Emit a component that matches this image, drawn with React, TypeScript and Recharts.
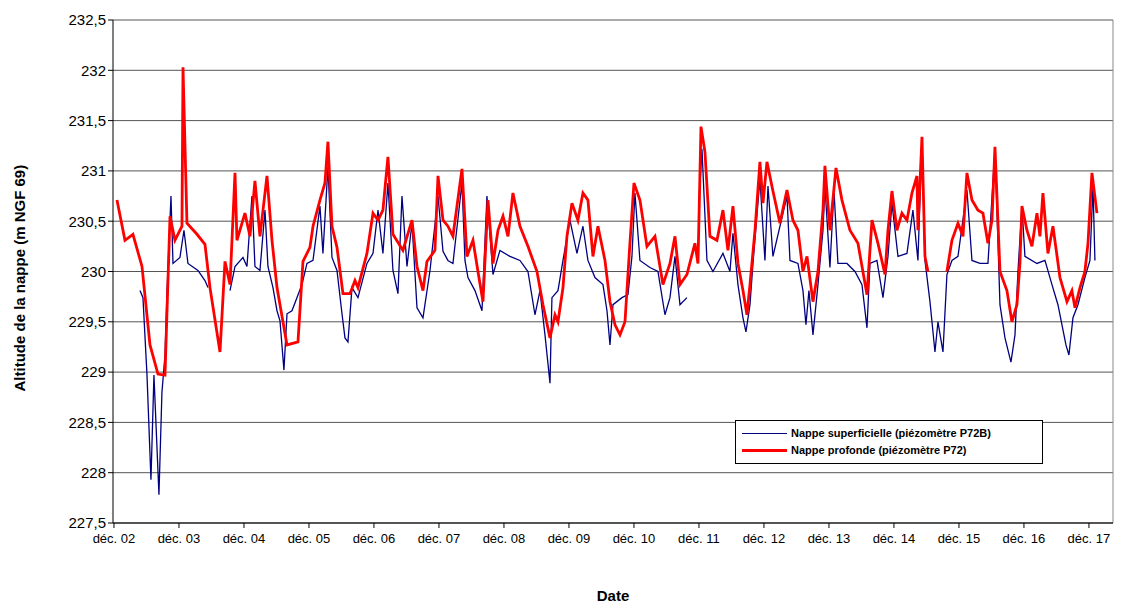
import React from "react";
import {
  LineChart,
  Line,
  XAxis,
  YAxis,
  CartesianGrid,
  ReferenceLine,
} from "recharts";

// t = années depuis déc. 02
const yearTicks = [0, 1, 2, 3, 4, 5, 6, 7, 8, 9, 10, 11, 12, 13, 14, 15];
const yearLabels = ["02", "03", "04", "05", "06", "07", "08", "09", "10", "11", "12", "13", "14", "15", "16", "17"];
const altitudeTicks = [227.5, 228, 228.5, 229, 229.5, 230, 230.5, 231, 231.5, 232, 232.5];

const nappeSuperficielle: [number, number | null][] = [
  [0.4, 229.81], [0.446, 229.74], [0.508, 228.97], [0.569, 227.93], [0.615, 228.97], [0.692, 227.78],
  [0.738, 228.8], [0.785, 229.17], [0.815, 229.78], [0.877, 230.75], [0.908, 230.08], [1.015, 230.14],
  [1.077, 230.41], [1.138, 230.08], [1.292, 230.01], [1.4, 229.91], [1.446, 229.84], [1.6, null],
  [1.785, 229.81], [1.862, 230.05], [1.985, 230.14], [2.046, 230.05], [2.123, 230.75], [2.169, 230.05],
  [2.246, 230.01], [2.323, 230.61], [2.369, 230.05], [2.446, 229.84], [2.508, 229.61], [2.554, 229.51],
  [2.615, 229.02], [2.662, 229.58], [2.738, 229.61], [2.815, 229.74], [2.892, 229.87], [2.969, 230.08],
  [3.062, 230.11], [3.169, 230.65], [3.215, 230.18], [3.292, 231.04], [3.354, 230.14], [3.431, 230.01],
  [3.508, 229.58], [3.554, 229.34], [3.6, 229.3], [3.662, 229.84], [3.754, 229.74], [3.892, 230.08],
  [3.985, 230.18], [4.062, 230.61], [4.138, 230.18], [4.215, 230.88], [4.292, 230.01], [4.369, 229.78],
  [4.431, 230.75], [4.508, 230.05], [4.585, 230.48], [4.662, 229.64], [4.754, 229.54], [4.862, 230.01],
  [4.985, 230.75], [5.062, 230.2], [5.138, 230.11], [5.215, 230.08], [5.354, 230.88], [5.4, 230.11],
  [5.446, 229.94], [5.554, 229.81], [5.662, 229.61], [5.738, 230.75], [5.831, 229.97], [5.938, 230.21],
  [6.092, 230.15], [6.246, 230.11], [6.369, 230.0], [6.477, 229.57], [6.554, 229.81], [6.631, 229.37],
  [6.708, 228.89], [6.738, 229.74], [6.831, 229.81], [6.908, 230.11], [7.015, 230.51], [7.123, 230.18],
  [7.215, 230.45], [7.292, 230.11], [7.4, 229.94], [7.523, 229.87], [7.585, 229.61], [7.631, 229.27],
  [7.677, 229.67], [7.815, 229.74], [7.908, 229.77], [7.969, 230.15], [8.015, 230.78], [8.092, 230.11],
  [8.246, 230.04], [8.369, 230.0], [8.477, 229.57], [8.554, 229.74], [8.631, 230.15], [8.708, 229.67],
  [8.815, 229.74], [8.9, null], [9.0, 230.68], [9.046, 231.22], [9.123, 230.11], [9.215, 230.0],
  [9.369, 230.18], [9.477, 230.0], [9.523, 230.38], [9.6, 229.87], [9.677, 229.54], [9.723, 229.4],
  [9.785, 229.67], [9.831, 230.08], [9.938, 230.92], [10.015, 230.11], [10.062, 230.85], [10.138, 230.15],
  [10.354, 230.75], [10.4, 230.11], [10.523, 230.08], [10.6, 229.81], [10.646, 229.47], [10.692, 229.81],
  [10.754, 229.37], [10.831, 229.87], [10.908, 230.41], [10.938, 230.85], [11.015, 230.04], [11.077, 230.81],
  [11.138, 230.08], [11.277, 230.08], [11.4, 230.0], [11.508, 229.87], [11.585, 229.44], [11.631, 230.08],
  [11.738, 230.11], [11.831, 229.74], [11.908, 230.15], [11.969, 230.68], [12.062, 230.15], [12.2, 230.18],
  [12.292, 230.61], [12.369, 230.11], [12.431, 231.32], [12.477, 230.11], [12.554, 229.7], [12.631, 229.2],
  [12.677, 229.5], [12.754, 229.2], [12.815, 229.97], [12.892, 230.11], [12.985, 230.15], [13.123, 230.81],
  [13.2, 230.11], [13.323, 230.08], [13.446, 230.08], [13.554, 231.22], [13.631, 229.67], [13.708, 229.34],
  [13.8, 229.1], [13.862, 229.37], [13.908, 230.0], [13.969, 230.65], [14.015, 230.15], [14.2, 230.08],
  [14.323, 230.11], [14.431, 229.87], [14.523, 229.67], [14.646, 229.27], [14.692, 229.17], [14.754, 229.54],
  [14.831, 229.67], [14.938, 229.94], [15.015, 230.11], [15.062, 230.85], [15.092, 230.11],
];

const nappeProfonde: [number, number | null][] = [
  [0.046, 230.71], [0.169, 230.31], [0.292, 230.37], [0.431, 230.05], [0.554, 229.27], [0.677, 228.98],
  [0.785, 228.97], [0.862, 230.55], [0.938, 230.31], [1.046, 230.45], [1.062, 232.03], [1.123, 230.48],
  [1.277, 230.37], [1.4, 230.27], [1.477, 229.84], [1.631, 229.2], [1.708, 230.1], [1.785, 229.87],
  [1.862, 230.98], [1.892, 230.31], [2.015, 230.58], [2.092, 230.35], [2.169, 230.9], [2.246, 230.35],
  [2.354, 230.95], [2.431, 230.31], [2.508, 229.84], [2.662, 229.27], [2.831, 229.3], [2.908, 230.1],
  [3.015, 230.24], [3.062, 230.45], [3.169, 230.71], [3.246, 230.88], [3.292, 231.29], [3.354, 230.45],
  [3.431, 230.24], [3.523, 229.78], [3.631, 229.78], [3.708, 229.91], [3.754, 229.84], [3.892, 230.18],
  [3.985, 230.58], [4.062, 230.51], [4.138, 230.61], [4.215, 231.14], [4.292, 230.37], [4.446, 230.21],
  [4.585, 230.51], [4.662, 230.05], [4.754, 229.81], [4.815, 230.1], [4.938, 230.21], [4.985, 230.95],
  [5.062, 230.51], [5.138, 230.45], [5.215, 230.35], [5.354, 231.02], [5.431, 230.15], [5.523, 230.31],
  [5.6, 230.0], [5.677, 229.7], [5.754, 230.71], [5.831, 230.08], [5.908, 230.41], [5.985, 230.55],
  [6.062, 230.35], [6.138, 230.78], [6.246, 230.45], [6.369, 230.25], [6.508, 230.0], [6.6, 229.67],
  [6.708, 229.34], [6.785, 229.57], [6.831, 229.5], [6.908, 229.84], [6.969, 230.35], [7.046, 230.68],
  [7.138, 230.51], [7.215, 230.78], [7.292, 230.71], [7.369, 230.15], [7.446, 230.45], [7.554, 230.11],
  [7.631, 229.7], [7.708, 229.47], [7.785, 229.37], [7.862, 229.5], [7.938, 230.28], [8.0, 230.88],
  [8.092, 230.71], [8.2, 230.25], [8.323, 230.35], [8.446, 229.87], [8.554, 230.08], [8.631, 230.35],
  [8.708, 229.87], [8.815, 229.97], [8.938, 230.28], [8.985, 230.08], [9.031, 231.44], [9.092, 231.19],
  [9.169, 230.35], [9.277, 230.31], [9.369, 230.61], [9.446, 230.21], [9.523, 230.65], [9.6, 230.08],
  [9.677, 229.81], [9.738, 229.57], [9.785, 229.87], [9.862, 230.41], [9.938, 231.09], [9.985, 230.68],
  [10.046, 231.09], [10.138, 230.8], [10.246, 230.48], [10.354, 230.81], [10.446, 230.51], [10.523, 230.41],
  [10.6, 230.0], [10.662, 230.15], [10.754, 229.7], [10.831, 230.0], [10.908, 230.61], [10.938, 231.05],
  [11.015, 230.41], [11.108, 231.03], [11.2, 230.71], [11.323, 230.41], [11.446, 230.28], [11.585, 229.77],
  [11.662, 230.51], [11.754, 230.28], [11.862, 229.97], [11.908, 230.41], [11.969, 230.8], [12.046, 230.41],
  [12.123, 230.58], [12.2, 230.51], [12.277, 230.78], [12.354, 230.95], [12.369, 230.41], [12.431, 231.34],
  [12.477, 230.15], [12.523, 230.0], [12.65, null], [12.815, 230.0], [12.892, 230.31], [12.985, 230.48],
  [13.062, 230.35], [13.123, 230.98], [13.2, 230.71], [13.292, 230.61], [13.369, 230.58], [13.446, 230.28],
  [13.508, 230.51], [13.554, 231.24], [13.631, 230.0], [13.738, 229.81], [13.815, 229.5], [13.892, 229.67],
  [13.938, 230.08], [13.969, 230.65], [14.046, 230.41], [14.123, 230.25], [14.2, 230.58], [14.246, 230.35],
  [14.292, 230.78], [14.369, 230.18], [14.446, 230.45], [14.554, 229.94], [14.662, 229.7], [14.738, 229.81],
  [14.785, 229.64], [14.862, 229.84], [14.938, 230.0], [14.985, 230.28], [15.046, 230.98], [15.123, 230.58],
];

const toRows = (pts: [number, number | null][]) => pts.map(([t, v]) => ({ t, v }));

const font = "Arial, 'Liberation Sans', sans-serif";

export default function App() {
  const xMin = -0.015;
  const xMax = 15.37;
  return (
    <div style={{ position: "relative", width: 1117, height: 597, fontFamily: font }}>
      <LineChart width={1117} height={597} margin={{ top: 12, right: 12, left: 0, bottom: 0 }}>
        <CartesianGrid vertical={false} stroke="#555" strokeWidth={1} />
        <XAxis
          type="number"
          dataKey="t"
          domain={[xMin, xMax]}
          ticks={yearTicks}
          tickFormatter={(t: number) => "déc. " + yearLabels[t]}
          interval={0}
          height={82}
          tick={{ fill: "#000", fontSize: 13, fontFamily: font, dy: 4 }}
          tickLine={{ stroke: "#000" }}
          tickSize={5}
          axisLine={{ stroke: "#000" }}
          allowDataOverflow
          label={{ value: "Date", position: "insideBottom", offset: 4, fill: "#000", fontSize: 15, fontWeight: "bold", fontFamily: font }}
        />
        <YAxis
          type="number"
          domain={[227.5, 232.5]}
          ticks={altitudeTicks}
          tickFormatter={(v: number) => String(v).replace(".", ",")}
          width={105}
          tick={{ fill: "#000", fontSize: 15, fontFamily: font }}
          tickLine={{ stroke: "#000" }}
          tickSize={5}
          axisLine={{ stroke: "#000" }}
          label={{ value: "Altitude de la nappe (m NGF 69)", angle: -90, position: "insideLeft", offset: 12, dy: 120, fill: "#000", fontSize: 15, fontWeight: "bold", fontFamily: font }}
        />
        <ReferenceLine x={xMax} stroke="#888" />
        <Line data={toRows(nappeSuperficielle)} dataKey="v" type="linear" stroke="#000080" strokeWidth={1.3} dot={false} isAnimationActive={false} connectNulls={false} />
        <Line data={toRows(nappeProfonde)} dataKey="v" type="linear" stroke="#ff0000" strokeWidth={2.8} dot={false} isAnimationActive={false} connectNulls={false} />
      </LineChart>
      <div
        style={{
          position: "absolute",
          left: 727,
          top: 412,
          width: 308,
          height: 44,
          border: "1px solid #000",
          background: "#fff",
          fontSize: 11,
          fontWeight: "bold",
          boxSizing: "border-box",
          padding: "4px 0 0 6px",
          lineHeight: "17px",
        }}
      >
        <div style={{ display: "flex", alignItems: "center" }}>
          <span style={{ display: "inline-block", width: 45, height: 0, borderTop: "1.5px solid #000080", marginRight: 4 }} />
          Nappe superficielle (piézomètre P72B)
        </div>
        <div style={{ display: "flex", alignItems: "center" }}>
          <span style={{ display: "inline-block", width: 45, height: 0, borderTop: "3px solid #ff0000", marginRight: 4 }} />
          Nappe profonde (piézomètre P72)
        </div>
      </div>
    </div>
  );
}
